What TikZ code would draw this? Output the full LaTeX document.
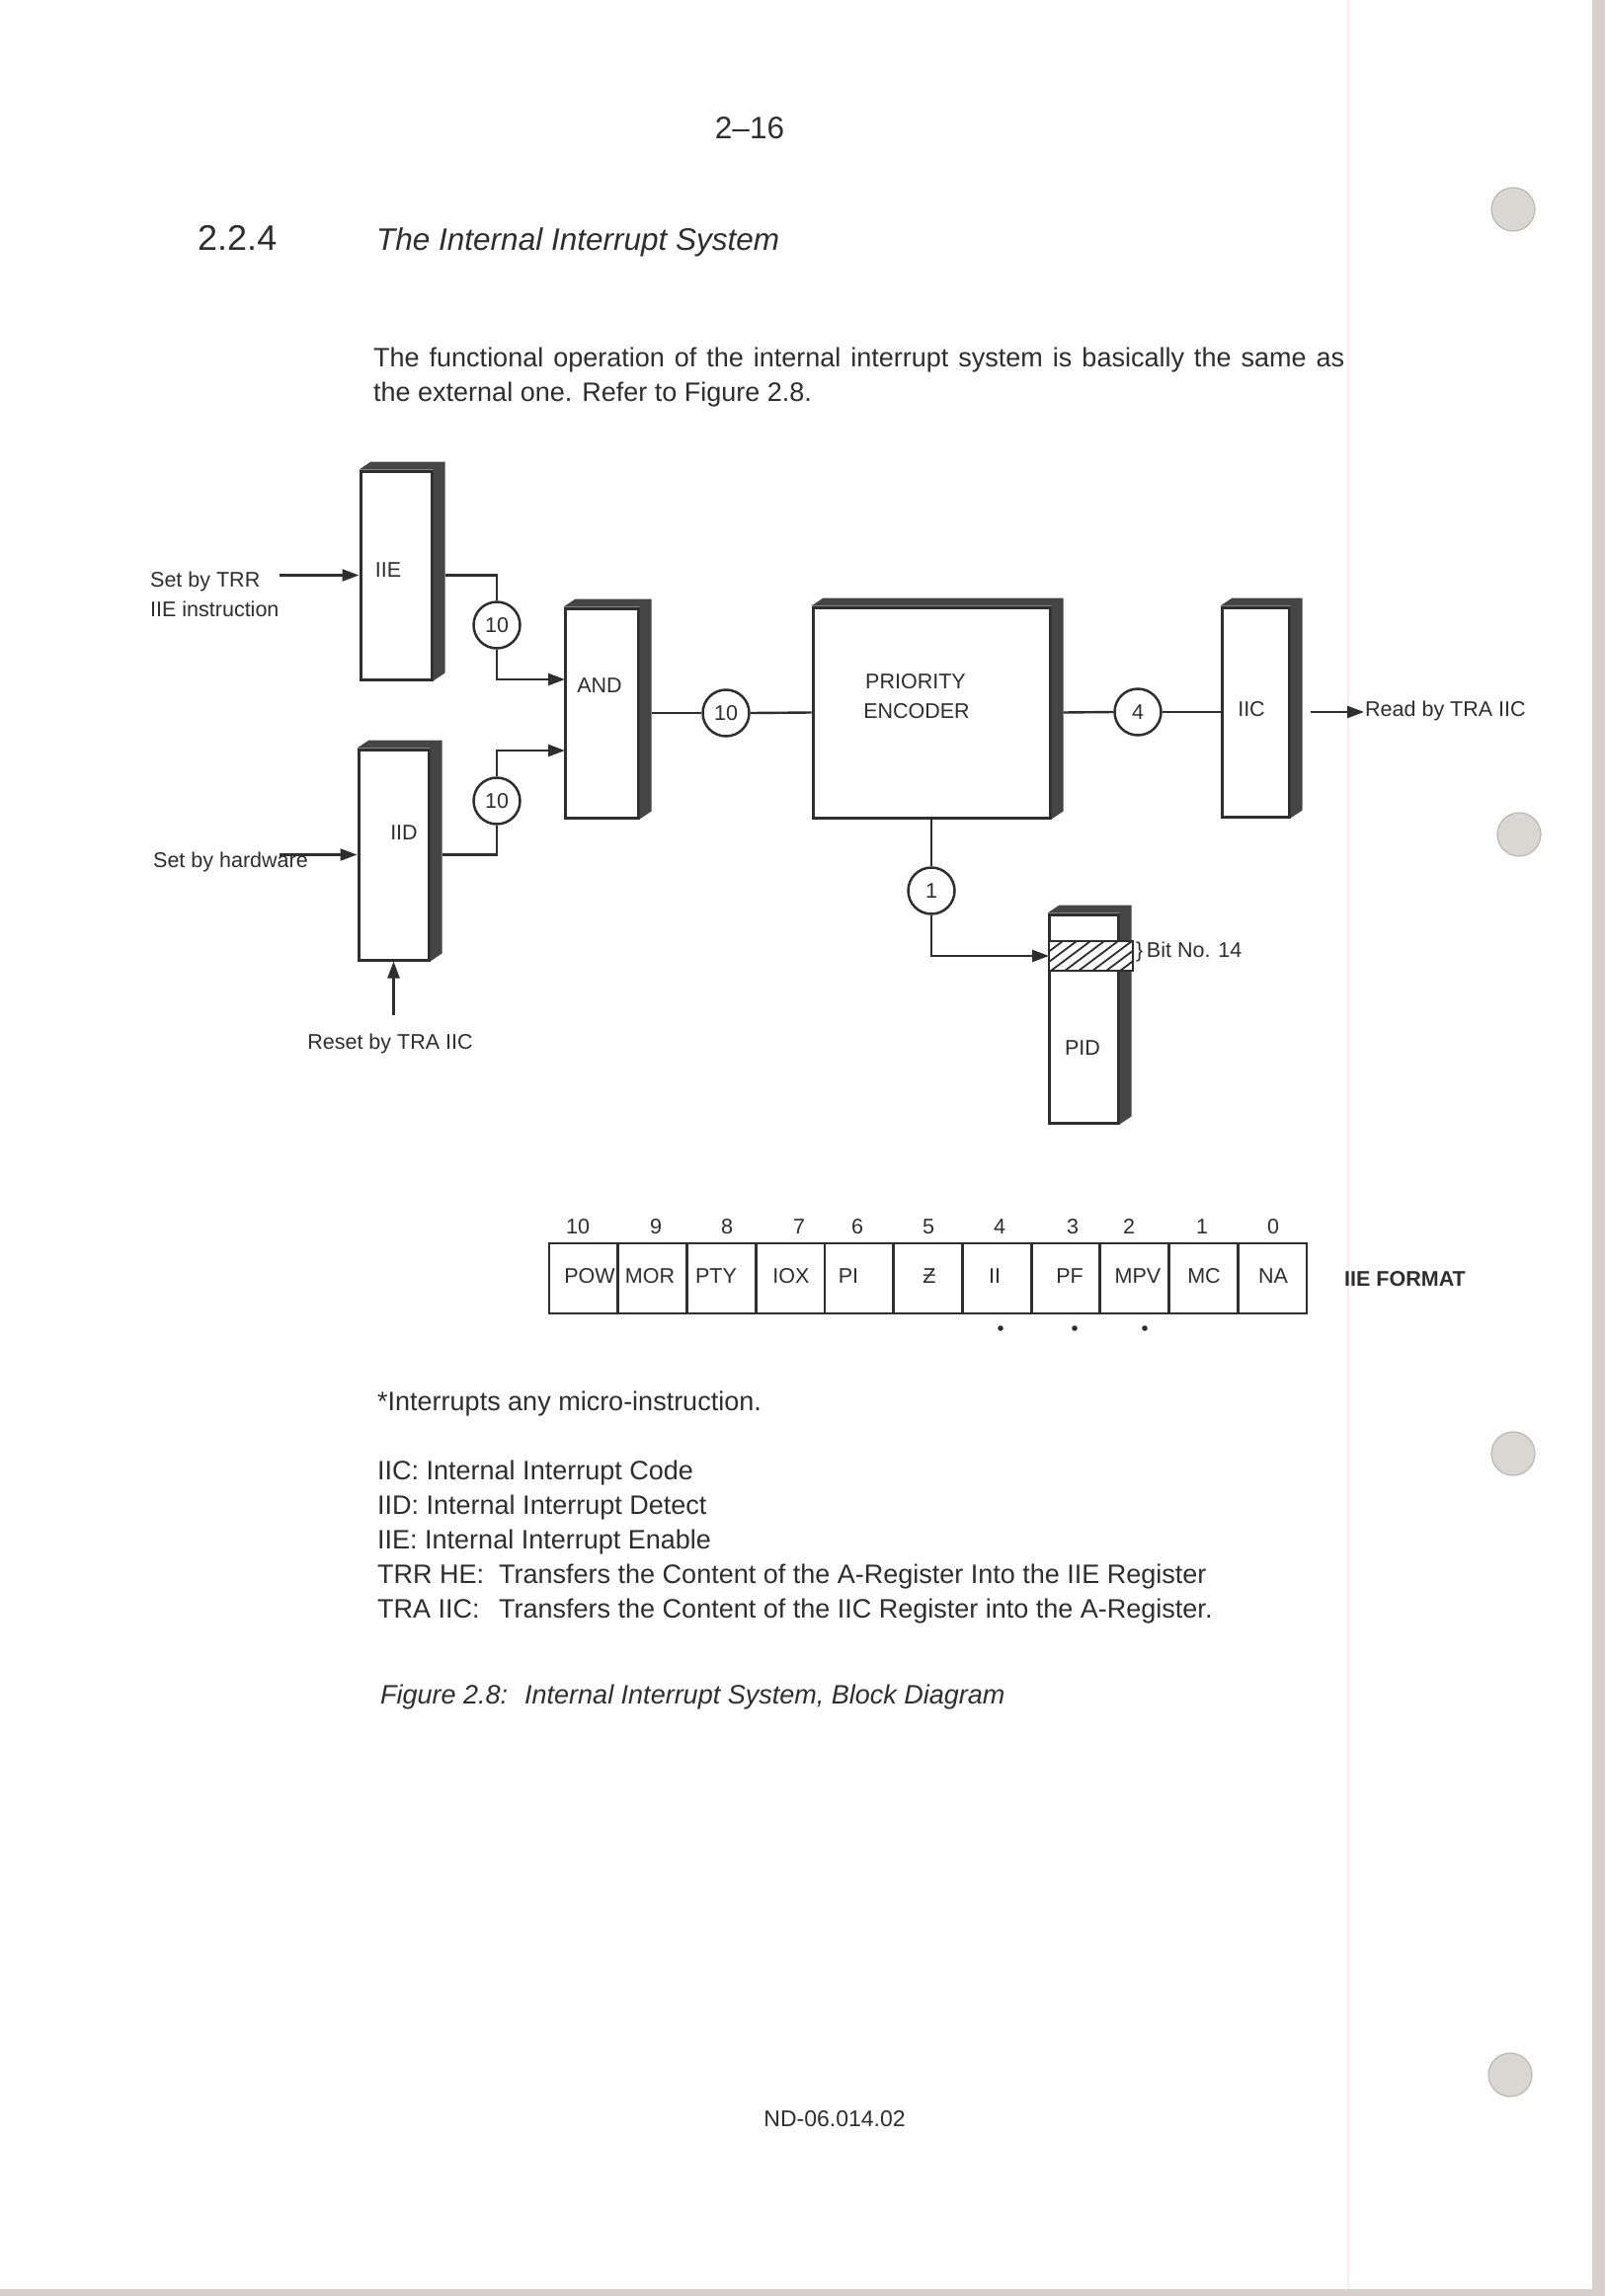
\documentclass[tikz,border=0pt]{standalone}
\usepackage{fontspec}
\setmainfont{Liberation Sans}
\usetikzlibrary{arrows.meta,calc}
\definecolor{ink}{HTML}{2E2E2E}
\definecolor{slabc}{HTML}{454545}
\definecolor{holefill}{HTML}{DAD6D1}
\definecolor{holeedge}{HTML}{BDB7B0}
\definecolor{edgec}{HTML}{D8D1CB}
\definecolor{pinkline}{HTML}{FBECF1}
\newcommand\dfont{\fontsize{21.5}{26}\selectfont}
\newcommand\tfont{\fontsize{27}{34}\selectfont}
\newcommand\ffont{\fontsize{23}{28}\selectfont}
\newcommand\pgfont{\fontsize{31.5}{38}\selectfont}
\newcommand\secfont{\fontsize{36}{42}\selectfont}
\newcommand\titfont{\fontsize{31.5}{38}\selectfont}
\newcommand\slab[1]{\fill[slabc] (#1.north west) -- ++(12,-8) -- ($(#1.north east)+(12,-8)$) -- ($(#1.south east)+(12,-8)$) -- (#1.south east) -- (#1.north east) -- cycle;}
\begin{document}
\begin{tikzpicture}[x=1pt,y=-1pt,
  every node/.append style={text=ink},
  regbox/.style={draw=ink, line width=3pt, fill=white, inner sep=0pt},
  bubble/.style={circle, draw=ink, line width=2.5pt, minimum size=47pt, inner sep=0pt, font=\dfont, fill=white},
  wire/.style={draw=ink, line width=2.4pt},
  arr/.style={wire, -{Triangle[length=17pt,width=12pt]}},
  cell/.style={draw=ink, line width=2.8pt, minimum width=69.73pt, minimum height=71pt, inner sep=0pt},
  lbl/.style={font=\dfont, inner sep=0pt, anchor=base},
  body/.style={font=\tfont, inner sep=0pt, anchor=base west}]
\useasboundingbox (0,0) rectangle (1625,2325);
\fill[white] (0,0) rectangle (1625,2325);
% page edges and binder holes
\fill[edgec] (1612,0) rectangle (1625,2325);
\fill[edgec] (0,2318) rectangle (1625,2325);
\draw[pinkline, line width=2pt] (1365,0) -- (1365,2318);
\foreach \hx/\hy in {1532/212,1538/845,1532/1472,1529/2101}{
  \fill[holefill] (\hx,\hy) circle[radius=22pt];
  \draw[holeedge, line width=1.2pt] (\hx,\hy) circle[radius=22pt];
}
% header texts
\node[font=\pgfont, inner sep=0pt, anchor=base] (pageno) at (759,141) {2–16};
\node[font=\secfont, inner sep=0pt, anchor=base west] (secno) at (200,254) {2.2.4};
\node[font=\titfont\itshape, inner sep=0pt, anchor=base west] (sectitle) at (381,254) {The Internal Interrupt System};
\node[body] (para1) at (378,371) {\makebox[983pt][s]{The functional operation of the internal interrupt system is basically the same as}};
\node[body] (para2) at (378,406) {the external one. Refer to Figure 2.8.};
% register boxes
\node[regbox, minimum width=72pt, minimum height=211pt] (iie) at (401,582.5) {};
\node[regbox, minimum width=71pt, minimum height=213pt] (iid) at (398.5,865.5) {};
\node[regbox, minimum width=74pt, minimum height=212pt] (and) at (609,722) {};
\node[regbox, minimum width=240pt, minimum height=213pt] (pe) at (943,721.5) {};
\node[regbox, minimum width=68pt, minimum height=212pt] (iic) at (1271,721) {};
\node[regbox, minimum width=70pt, minimum height=211pt] (pid) at (1097,1031.5) {};
\slab{iie}\slab{iid}\slab{and}\slab{pe}\slab{iic}\slab{pid}
% box labels
\node[lbl] (iieT) at (393,584) {IIE};
\node[lbl] (iidT) at (409,850) {IID};
\node[lbl] (andT) at (607,701) {AND};
\node[lbl] (peT1) at (927,697) {PRIORITY};
\node[lbl] (peT2) at (928,727) {ENCODER};
\node[lbl] (iicT) at (1267,725) {IIC};
\node[lbl] (pidT) at (1096,1068) {PID};
% bit band of PID
\fill[white] (1062,953) rectangle (1147,983);
\begin{scope}
  \clip (1062,953) rectangle (1147,983);
  \foreach \i in {0,...,9} \draw[ink, line width=1.8pt] (1036+\i*14,983) -- ++(40,-30);
\end{scope}
\draw[ink, line width=2.6pt] (1062,953) rectangle (1147,983);
\node[lbl, anchor=base west] (bitT) at (1150,969) {\}\,Bit No. 14};
% bubbles
\node[bubble] (c1) at (503,633) {10};
\node[bubble] (c2) at (503,811) {10};
\node[bubble] (c3) at (735,722) {10};
\node[bubble] (c4) at (1152,721) {4};
\node[bubble] (c5) at (943,902) {1};
% connectors
\coordinate (iieout) at ($(iie.east)+(12,0)$);
\coordinate (iidout) at ($(iid.east)+(12,0)$);
\coordinate (andout) at ($(and.east)+(12,0)$);
\coordinate (peout) at ($(pe.east)+(12,0)$);
\coordinate (iicout) at ($(iic.east)+(20,0)$);
\coordinate (andin1) at (572,688);
\coordinate (andin2) at (572,760);
\coordinate (pidin) at (1062,968);
\coordinate (trrstart) at (283,582.5);
\coordinate (hwstart) at (283,865.5);
\coordinate (rststart) at (398.5,1028);
\coordinate (readin) at (1381,721);
\draw[wire] (iieout) -| (c1.north);
\draw[arr] (c1.south) |- (andin1);
\draw[wire] (iidout) -| (c2.south);
\draw[arr] (c2.north) |- (andin2);
\draw[arr] (trrstart) -- (iie.west);
\draw[arr] (hwstart) -- (iid.west);
\draw[arr] (rststart) -- (iid.south);
\draw[wire] (andout) -- (c3.west);
\draw[wire] (c3.east) -- (pe.west);
\draw[wire] (peout) -- (c4.west);
\draw[wire] (c4.east) -- (iic.west);
\draw[arr] (iicout) -- (readin);
\draw[wire] (pe.south) -- (c5.north);
\draw[arr] (c5.south) |- (pidin);
% outside labels
\node[lbl, anchor=base west] (trrT) at (152,594) {Set by TRR};
\node[lbl, anchor=base west] (trrT2) at (152,624) {IIE instruction};
\node[lbl, anchor=base west] (hwT) at (155,878) {Set by hardware};
\node[lbl] (rstT) at (395,1062) {Reset by TRA IIC};
\node[lbl, anchor=base west] (readT) at (1382,725) {Read by TRA IIC};
% IIE format register
\foreach \k in {0,...,10}{
  \pgfmathsetmacro\cx{556+69.73*(\k+0.5)}
  \node[cell] (cell\k) at (\cx,1294.5) {};
}
\foreach \n/\bx in {10/585,9/664,8/736,7/809,6/868,5/940,4/1012,3/1086,2/1143,1/1217,0/1289}
  \node[lbl] (bit\n) at (\bx,1249) {\n};
\foreach \t/\lx [count=\c] in {POW/597,MOR/658,PTY/725,IOX/801,PI/859,Ƶ/941,II/1007,PF/1083,MPV/1152,MC/1219,NA/1289}
  \node[lbl] (lab\c) at (\lx,1299) {\t};
\node[lbl, anchor=base west, font=\dfont\bfseries] (fmt) at (1361,1302) {IIE FORMAT};
\foreach \dx in {1013,1088,1159} \fill[ink] (\dx,1345) circle[radius=2.8pt];
% legend
\node[body] (note) at (382,1428) {*Interrupts any micro-instruction.};
\node[body] (leg1) at (382,1498) {IIC: Internal Interrupt Code};
\node[body] (leg2) at (382,1533) {IID: Internal Interrupt Detect};
\node[body] (leg3) at (382,1568) {IIE: Internal Interrupt Enable};
\node[body] (leg4a) at (382,1603) {TRR HE:};
\node[body] (leg4b) at (505,1603) {Transfers the Content of the A-Register Into the IIE Register};
\node[body] (leg5a) at (382,1638) {TRA IIC:};
\node[body] (leg5b) at (505,1638) {Transfers the Content of the IIC Register into the A-Register.};
\node[body, font=\tfont\itshape] (cap1) at (385,1725) {Figure 2.8:};
\node[body, font=\tfont\itshape] (cap2) at (531,1725) {Internal Interrupt System, Block Diagram};
\node[font=\ffont, inner sep=0pt, anchor=base] (foot) at (845,2153) {ND-06.014.02};
\end{tikzpicture}
\end{document}
